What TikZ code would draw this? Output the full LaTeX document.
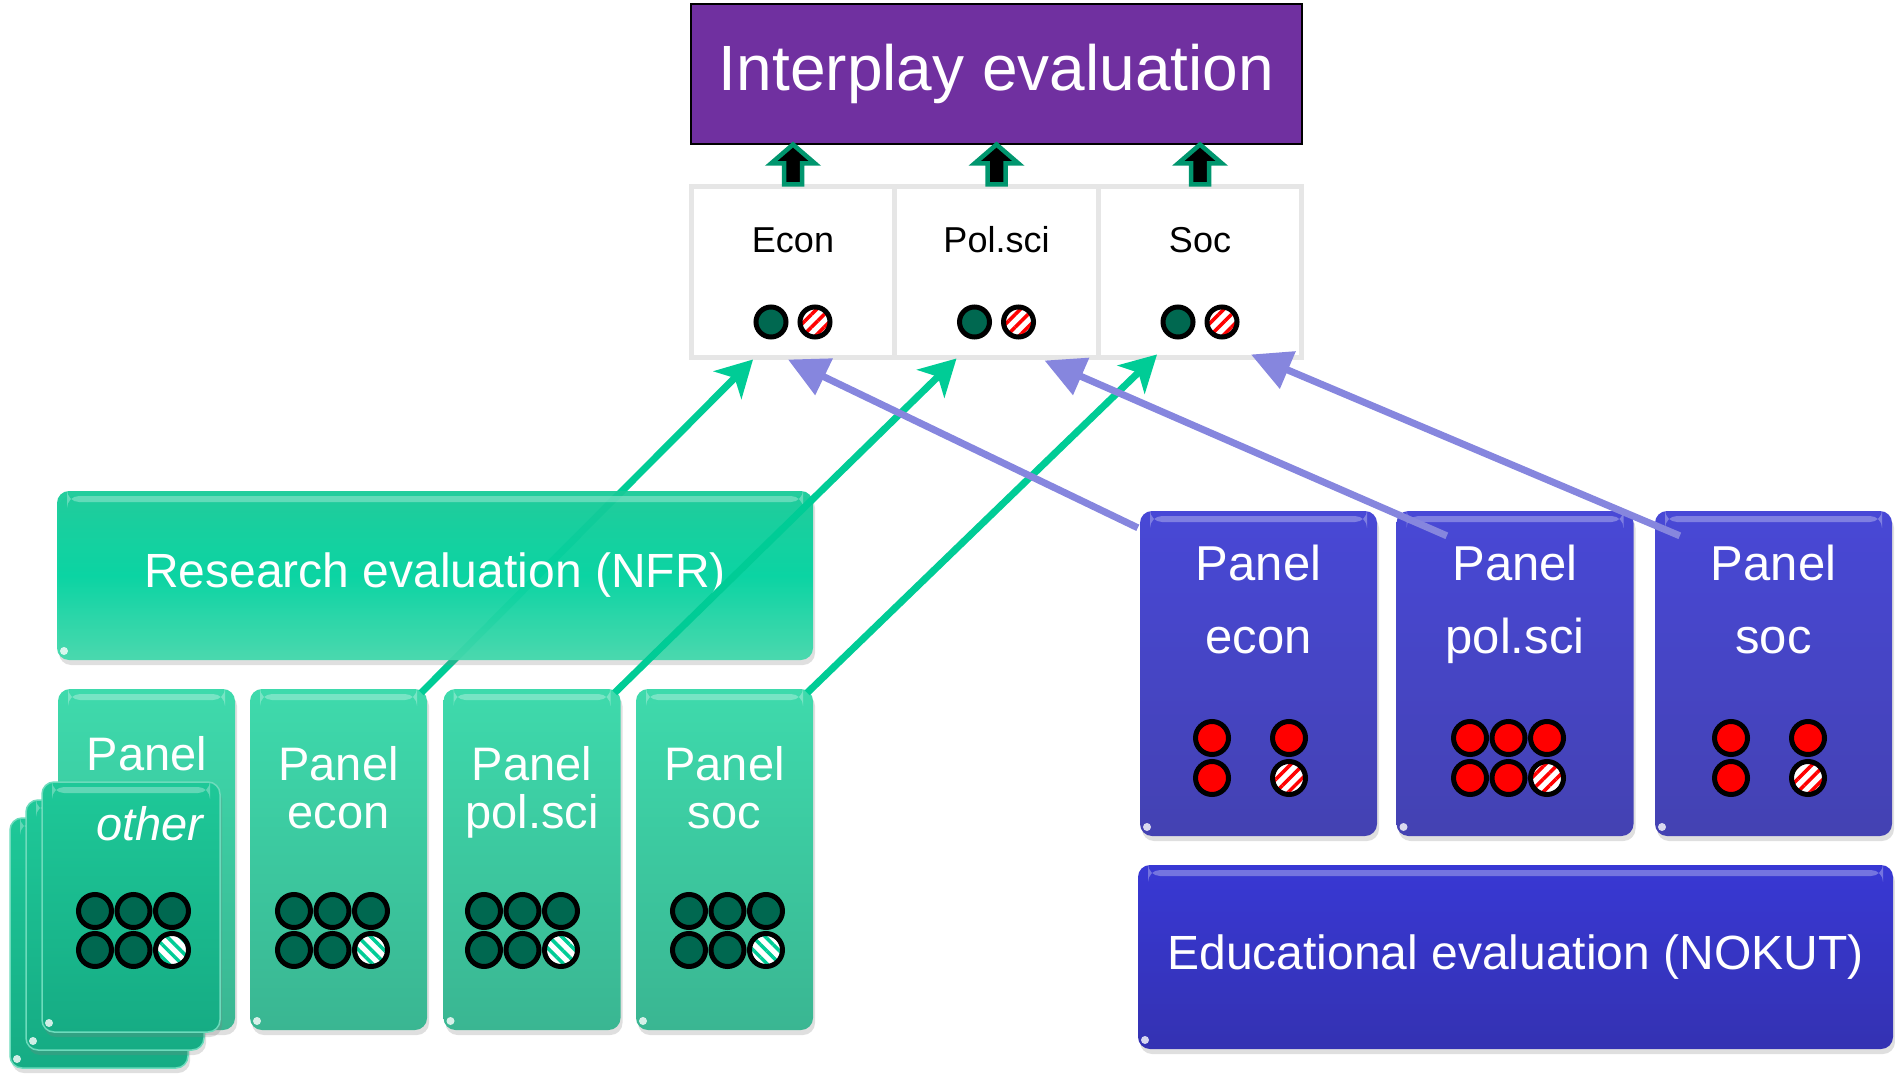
\documentclass[tikz,border=0pt]{standalone}
\usepackage{fontspec}
\setmainfont{Liberation Sans}
\usetikzlibrary{arrows.meta,shadows,patterns,patterns.meta,calc}

\definecolor{interplay}{RGB}{112,48,160}
\definecolor{nfrtop}{RGB}{24,202,152}
\definecolor{nfrmid}{RGB}{0,212,160}
\definecolor{nfrbot}{RGB}{68,216,172}
\definecolor{paneltop}{RGB}{62,218,172}
\definecolor{panelbot}{RGB}{58,182,146}
\definecolor{stacktop}{RGB}{30,200,152}
\definecolor{stackbot}{RGB}{22,172,132}
\definecolor{bluetop}{RGB}{72,72,214}
\definecolor{bluebot}{RGB}{68,66,178}
\definecolor{nokuttop}{RGB}{56,56,212}
\definecolor{nokutbot}{RGB}{52,50,178}
\definecolor{linkgreen}{RGB}{0,204,150}
\definecolor{linkblue}{RGB}{134,134,222}
\definecolor{dotgreen}{RGB}{0,104,80}
\definecolor{cellgray}{RGB}{230,230,230}
\definecolor{arrowgreen}{RGB}{0,150,110}

% dots: plain and hatched
\newcommand{\plaindot}[3][16.5]{\draw[line width=5pt,fill=#3] (#2) circle (#1);}
\newcommand{\hatchdot}[4][16.5]{%
  \fill[white] (#2) circle (#1);
  \fill[pattern={Lines[angle=#4,distance=9pt,line width=3.5pt]},pattern color=#3] (#2) circle (#1);
  \draw[line width=5pt] (#2) circle (#1);}

\begin{document}
\begin{tikzpicture}[x=1pt,y=1pt,
    box/.style={rounded corners=12pt, inner sep=0pt, text=white,
      drop shadow={shadow xshift=2pt,shadow yshift=-5pt,opacity=.25}},
    gloss/.style={path picture={
      \fill[white,opacity=.3] ($(path picture bounding box.north west)+(10,-5)$) rectangle ($(path picture bounding box.north east)+(-10,-11)$);
      \fill[white,opacity=.8] ($(path picture bounding box.south west)+(7,9)$) circle (4);}},
    gpanel/.style={box, gloss, top color=paneltop, bottom color=panelbot,
      minimum width=177pt, minimum height=341pt},
    stack/.style={box, gloss, top color=stacktop, bottom color=stackbot,
      draw=white!35!stacktop, line width=1.5pt, minimum width=178pt, minimum height=250pt},
    bpanel/.style={box, gloss, top color=bluetop, bottom color=bluebot,
      minimum width=237pt, minimum height=325pt},
    nfrbox/.style={box, gloss, top color=nfrtop, bottom color=nfrbot, middle color=nfrmid,
      fill opacity=.95, text opacity=1, minimum width=756pt, minimum height=169pt,
      font=\fontsize{48}{50}\selectfont},
    nokutbox/.style={box, gloss, top color=nokuttop, bottom color=nokutbot,
      minimum width=755pt, minimum height=184pt, font=\fontsize{48}{50}\selectfont},
    cell/.style={draw=cellgray, line width=5pt, fill=white, inner sep=0pt,
      minimum width=203.7pt, minimum height=170pt},
    celltext/.style={font=\fontsize{36}{40}\selectfont, anchor=base, inner sep=0pt},
    ptext/.style={text=white, font=\fontsize{47}{50}\selectfont, anchor=base, inner sep=0pt},
    btext/.style={ptext, font=\fontsize{49}{52}\selectfont},
    glink/.style={linkgreen, line width=7pt, -{Stealth[length=36pt,width=39pt,inset=10pt]}},
    blink/.style={linkblue, line width=7pt, -{Triangle[length=40pt,width=39pt]}},
    blockarrow/.style={fill=black, draw=arrowgreen, line width=4.5pt, line join=miter}]

  \path[use as bounding box] (0,0) rectangle (1895,-1075);

  % Interplay evaluation
  \node[fill=interplay, draw=black, line width=1.5pt, minimum width=611pt, minimum height=140pt,
    text=white, font=\fontsize{64}{70}\selectfont] (top) at (996.5,-74) {Interplay evaluation};

  % Discipline cells
  \node[cell] (ce) at (793,-272) {};
  \node[cell] (cp) at (996.5,-272) {};
  \node[cell] (cs) at (1200,-272) {};
  \node[celltext] (ce-t) at ($(ce)+(0,19)$) {Econ};
  \node[celltext] (cp-t) at ($(cp)+(0,19)$) {Pol.sci};
  \node[celltext] (cs-t) at ($(cs)+(0,19)$) {Soc};
  \foreach \c in {ce,cp,cs} {
    \plaindot[15]{$(\c)+(-22,-50)$}{dotgreen}
    \hatchdot[15]{$(\c)+(22,-50)$}{red}{45}
    \filldraw[blockarrow, shift={(\c.north)}]
      (-9,0) -- (-9,21) -- (-22,21) -- (0,40) -- (22,21) -- (9,21) -- (9,0) -- cycle;
  }

  % Panel other (stacked cards)
  \node[gpanel] (go) at (146.5,-859.5) {};
  \node[ptext] (go-t) at (147,-770) {Panel};
  \node[stack] (so3) at (99,-943) {};
  \node[stack] (so2) at (115,-925) {};
  \node[stack] (so1) at (131,-907) {};
  \node[ptext, font=\itshape\fontsize{47}{50}\selectfont] (so1-t) at (150,-840) {other};

  % Research panels
  \foreach \n/\x/\t in {ge/338.5/econ, gp/532/pol.sci, gs/724.5/soc} {
    \node[gpanel] (\n) at (\x,-859.5) {};
    \node[ptext] (\n-t1) at (\x,-780) {Panel};
    \node[ptext] (\n-t2) at (\x,-828) {\t};
  }
  \foreach \x in {95,294,484,689} {
    \foreach \i in {0,1,2} {\plaindot{\x+\i*38.5,-911}{dotgreen}}
    \plaindot{\x,-950}{dotgreen}
    \plaindot{\x+38.5,-950}{dotgreen}
    \hatchdot{\x+77,-950}{linkgreen}{-45}
  }

  % Research links (first one runs behind the NFR box)
  \draw[glink] ($(ge.north east)+(-6,-4)$) -- ($(ce.south)+(-40,0)$);
  \node[nfrbox] (nfr) at (435,-575.5) {Research evaluation (NFR)};
  \draw[glink] ($(gp.north east)+(-6,-4)$) -- ($(cp.south)+(-40,1)$);
  \draw[glink] ($(gs.north east)+(-6,-4)$) -- ($(cs.south)+(-43,5)$);

  % Educational panels
  \foreach \n/\x/\t in {be/1258.5/econ, bp/1515/pol.sci, bs/1773.5/soc} {
    \node[bpanel] (\n) at (\x,-673.5) {};
    \node[btext] (\n-t1) at (\x,-580) {Panel};
    \node[btext] (\n-t2) at (\x,-653) {\t};
  }
  \foreach \x in {1212,1731} {
    \plaindot{\x,-738}{red}
    \plaindot{\x+77,-738}{red}
    \plaindot{\x,-778}{red}
    \hatchdot{\x+77,-778}{red}{45}
  }
  \foreach \i in {0,1,2} {\plaindot{1470+\i*38.5,-738}{red}}
  \plaindot{1470,-778}{red}
  \plaindot{1508.5,-778}{red}
  \hatchdot{1547,-778}{red}{45}

  \node[nokutbox] (nokut) at (1515.5,-957) {Educational evaluation (NOKUT)};

  % Educational links
  \draw[blink] ($(be.north west)+(-2,-17)$) -- ($(ce.south)+(-5,0)$);
  \draw[blink] ($(bp.north west)+(50.5,-25)$) -- ($(cp.south)+(48,-1)$);
  \draw[blink] ($(bs.north west)+(25,-25)$) -- ($(cs.south)+(51,5)$);
\end{tikzpicture}
\end{document}
